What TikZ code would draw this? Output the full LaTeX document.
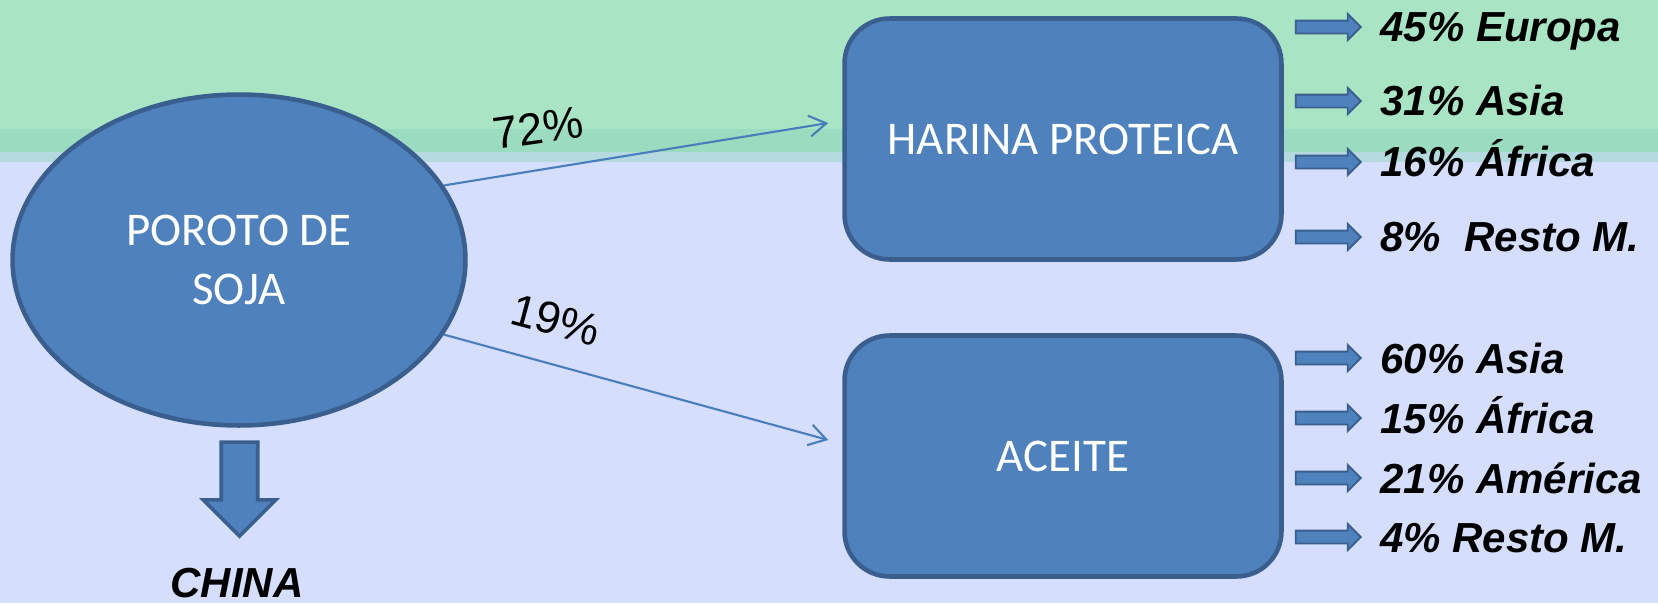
\documentclass[tikz,border=0pt]{standalone}
\usepackage{fontspec}
\setmainfont{Carlito}
\newfontfamily\arialfont{Liberation Sans}
\usetikzlibrary{shapes.geometric,shapes.arrows,arrows.meta}
\definecolor{bandgreen}{HTML}{A9E4C5}
\definecolor{bandmid}{HTML}{9BDCC0}
\definecolor{bandlight}{HTML}{B4DAE0}
\definecolor{paleblue}{HTML}{D5DFFD}
\definecolor{boxfill}{HTML}{4F81BD}
\definecolor{boxline}{HTML}{3A5F8E}
\definecolor{flowblue}{HTML}{4A7EBB}
\tikzset{
  bigtext/.style={text=white, align=center, font=\fontsize{26.7}{33.6}\selectfont},
  product/.style={rectangle, rounded corners=0.9cm, draw=boxline, fill=boxfill, line width=2.6pt,
    minimum width=8.74cm, minimum height=4.82cm, bigtext},
  flow/.style={draw=flowblue, line width=1.2pt, -{Straight Barb[length=0.34cm,width=0.42cm]}},
  pct/.style={inner sep=0, font=\arialfont\fontsize{25.6}{30}\selectfont},
  dest/.style={anchor=base west, inner sep=0, font=\arialfont\bfseries\itshape\fontsize{23.9}{28}\selectfont},
  destarrow/.style={single arrow, draw=boxline, fill=boxfill, line width=1.1pt, inner sep=0.11cm,
    single arrow head extend=0.13cm, minimum height=1.3cm}
}
\begin{document}
\begin{tikzpicture}[x=0.02cm, y=-0.02cm]
\useasboundingbox (0,0) rectangle (1658,603);
% Background bands:
\fill[paleblue] (0,0) rectangle (1658,603);
\fill[bandgreen] (0,0) rectangle (1658,129);
\fill[bandmid] (0,129) rectangle (1658,152);
\fill[bandlight] (0,152) rectangle (1658,162);
% Main nodes:
\node (soja) [ellipse, draw=boxline, fill=boxfill, line width=2.6pt, minimum width=9.06cm,
  minimum height=6.62cm, bigtext] at (239,260) {POROTO DE\\SOJA};
\node (harina) [product] at (1063,139) {HARINA PROTEICA};
\node (aceite) [product] at (1063,456) {ACEITE};
\draw[flow] (soja.20) -- ([shift={(-14,-16)}]harina.west);
\draw[flow] (soja.-20) -- ([shift={(-14,-16)}]aceite.west);
\node (p72) [pct, rotate=8] at (538,128) {72\%};
\node (p19) [pct, rotate=-15] at (556,320) {19\%};
% Destinations of the meal:
\node (ha1) [destarrow] at (1325,27) {};
\node (ha2) [destarrow] at (1325,101) {};
\node (ha3) [destarrow] at (1325,162) {};
\node (ha4) [destarrow] at (1325,237) {};
\node (h1) [dest] at (1380,41) {45\% Europa};
\node (h2) [dest] at (1380,115) {31\% Asia};
\node (h3) [dest] at (1380,176) {16\% África};
\node (h4) [dest] at (1380,251) {8\%\ \ Resto M.};
% Destinations of the oil:
\node (ac1) [destarrow] at (1325,358) {};
\node (ac2) [destarrow] at (1325,418) {};
\node (ac3) [destarrow] at (1325,478) {};
\node (ac4) [destarrow] at (1325,537) {};
\node (a1) [dest] at (1380,373) {60\% Asia};
\node (a2) [dest] at (1380,433) {15\% África};
\node (a3) [dest] at (1380,493) {21\% América};
\node (a4) [dest] at (1380,552) {4\% Resto M.};
% Beans to China:
\node (down) [single arrow, shape border rotate=270, draw=boxline, fill=boxfill, line width=2pt,
  inner sep=0.33cm, single arrow head extend=0.36cm, minimum height=1.88cm] at (239.5,480) {};
\node (china) [dest, anchor=base] at (237,597) {CHINA};
\end{tikzpicture}
\end{document}
